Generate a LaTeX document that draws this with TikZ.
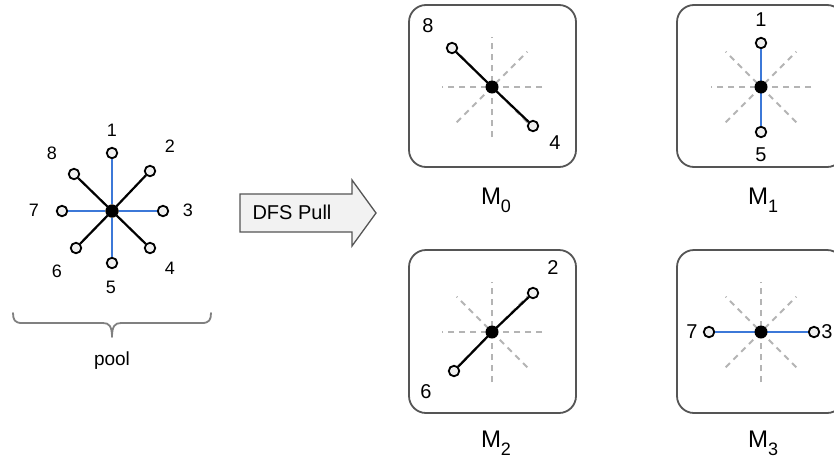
\documentclass[tikz,border=0pt]{standalone}
\usepackage{fontspec}
\setmainfont{Liberation Sans}
\usetikzlibrary{calc}
\definecolor{armblue}{HTML}{3C78D8}
\definecolor{guidegray}{HTML}{B4B4B4}
\definecolor{boxgray}{HTML}{555555}
\definecolor{leaffill}{HTML}{F0F0F0}
\definecolor{arrowfill}{HTML}{F2F2F2}
\definecolor{bracegray}{HTML}{808080}
\newcommand{\msub}[2]{M\raisebox{-8pt}{\fontsize{18}{18}\selectfont #2}}
\begin{document}
\begin{tikzpicture}[x=1pt,y=-1pt,
  hub/.style={circle,fill=black,minimum size=13pt,inner sep=0pt},
  leaf/.style={circle,draw=black,fill=leaffill,line width=1.8pt,minimum size=10.5pt,inner sep=0pt},
  armk/.style={line width=2.2pt,black},
  armb/.style={line width=2.2pt,armblue},
  guide/.style={line width=1.8pt,guidegray,dash pattern=on 6pt off 5pt},
  panel/.style={draw=boxgray,line width=1.8pt,rounded corners=17pt},
  lbl/.style={font=\fontsize{18}{18}\selectfont,inner sep=0pt},
  blbl/.style={font=\fontsize{20}{20}\selectfont,inner sep=0pt},
  mlbl/.style={font=\fontsize{24}{24}\selectfont,inner sep=0pt,anchor=base},
]
\useasboundingbox (0,0) rectangle (834,461);
\fill[white] (0,0) rectangle (834,461);

% ---------- pool ----------
\node[hub] (p) at (112,211) {};
\node[leaf] (p1) at (112,153) {};
\node[leaf] (p2) at (150,171) {};
\node[leaf] (p3) at (163,211) {};
\node[leaf] (p4) at (150,248) {};
\node[leaf] (p5) at (112,263) {};
\node[leaf] (p6) at (76,248) {};
\node[leaf] (p7) at (62,211) {};
\node[leaf] (p8) at (74,174) {};
\draw[armb] (p) -- (p1);
\draw[armb] (p) -- (p5);
\draw[armb] (p) -- (p3);
\draw[armb] (p) -- (p7);
\draw[armk] (p) -- (p2);
\draw[armk] (p) -- (p4);
\draw[armk] (p) -- (p6);
\draw[armk] (p) -- (p8);
\node[hub] at (p) {};
\node[lbl] (pl1) at (112,130) {1};
\node[lbl] (pl2) at (170,146) {2};
\node[lbl] (pl3) at (188,210) {3};
\node[lbl] (pl4) at (170,268) {4};
\node[lbl] (pl5) at (111,287) {5};
\node[lbl] (pl6) at (57,271) {6};
\node[lbl] (pl7) at (34,210) {7};
\node[lbl] (pl8) at (52,153) {8};

% brace
\draw[bracegray,line width=1.8pt,line cap=round,line join=round]
  (13,313) .. controls (13,320) and (15,323) .. (22,323)
  -- (103,323) .. controls (109,323) and (112,326) .. (112,337)
  .. controls (112,326) and (115,323) .. (121,323)
  -- (202,323) .. controls (209,323) and (211,320) .. (211,313);
\node[font=\fontsize{19}{19}\selectfont,inner sep=0pt] (pool) at (112,361) {pool};

% ---------- arrow ----------
\draw[boxgray,fill=arrowfill,line width=1.3pt,line join=miter]
  (240,194) -- (352,194) -- (352,180) -- (376,213) -- (352,246) -- (352,232) -- (240,232) -- cycle;
\node[font=\fontsize{20}{20}\selectfont,inner sep=0pt] (dfs) at (292,212) {DFS Pull};

% ---------- panels ----------
\draw[panel] (409,5) rectangle (576,167);
\draw[panel] (677,5) rectangle (844,167);
\draw[panel] (409,250) rectangle (576,413);
\draw[panel] (677,250) rectangle (844,413);

% guides
\foreach \cx/\cy in {492/87, 761/87, 492/332, 761/332} {
  \coordinate (g) at (\cx,\cy);
  \foreach \a in {0,45,90,135} {
    \draw[guide] ($(g)+(\a:50)$) -- ($(g)+(\a+180:50)$);
  }
}

% M0
\coordinate (c0) at (492,87);
\node[leaf] (m08) at (452,48) {};
\node[leaf] (m04) at (533,126) {};
\draw[armk] (c0) -- (m08);
\draw[armk] (c0) -- (m04);
\node[hub] (h0) at (c0) {};
\node[blbl] (l08) at (428,26) {8};
\node[blbl] (l04) at (555,143) {4};
\node[mlbl] (M0) at (496,204) {\msub{M}{0}};

% M1
\coordinate (c1) at (761,87);
\node[leaf] (m11) at (761,43) {};
\node[leaf] (m15) at (761,132) {};
\draw[armb] (c1) -- (m11);
\draw[armb] (c1) -- (m15);
\node[hub] (h1) at (c1) {};
\node[blbl] (l11) at (761,20) {1};
\node[blbl] (l15) at (761,155) {5};
\node[mlbl] (M1) at (763,204) {\msub{M}{1}};

% M2
\coordinate (c2) at (492,332);
\node[leaf] (m22) at (533,293) {};
\node[leaf] (m26) at (454,371) {};
\draw[armk] (c2) -- (m22);
\draw[armk] (c2) -- (m26);
\node[hub] (h2) at (c2) {};
\node[blbl] (l22) at (553,268) {2};
\node[blbl] (l26) at (426,392) {6};
\node[mlbl] (M2) at (496,447) {\msub{M}{2}};

% M3
\coordinate (c3) at (761,332);
\node[leaf] (m37) at (709,332) {};
\node[leaf] (m33) at (814,332) {};
\draw[armb] (c3) -- (m37);
\draw[armb] (c3) -- (m33);
\node[hub] (h3) at (c3) {};
\node[blbl] (l37) at (692,332) {7};
\node[blbl] (l33) at (827,332) {3};
\node[mlbl] (M3) at (763,447) {\msub{M}{3}};
\end{tikzpicture}
\end{document}
